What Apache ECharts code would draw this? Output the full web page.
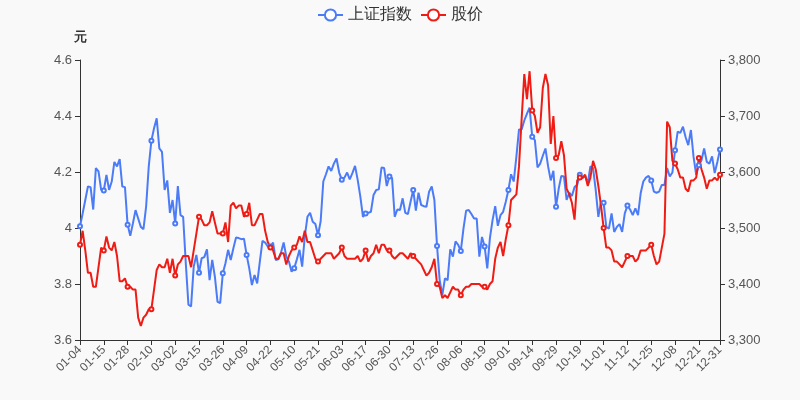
<!DOCTYPE html>
<html>
<head>
<meta charset="utf-8">
<script src="https://cdn.jsdelivr.net/npm/echarts@6/dist/echarts.min.js"></script>
<style>
  html, body { margin: 0; padding: 0; background: #f9f9f9; }
  #chart { width: 800px; height: 400px; }
</style>
</head>
<body>
<div id="chart"></div>
<script>
// 2021 沪市交易日（工作日去掉节假日）
var year = 2021;
var holidays = ['01-01', '02-11', '02-12', '02-15', '02-16', '02-17', '04-05',
    '05-03', '05-04', '05-05', '06-14', '09-20', '09-21',
    '10-01', '10-04', '10-05', '10-06', '10-07'];

function pad(n) { return n < 10 ? '0' + n : '' + n; }
var dates = [];
for (var d = new Date(year, 0, 1); d.getFullYear() === year; d.setDate(d.getDate() + 1)) {
    var wd = d.getDay();
    var key = pad(d.getMonth() + 1) + '-' + pad(d.getDate());
    if (wd !== 0 && wd !== 6 && holidays.indexOf(key) < 0) dates.push(key);
}

// 上证指数
var shIndex = [
    3503, 3526, 3550, 3574, 3573, 3533, 3607, 3601, 3568, 3567,
    3595, 3568, 3583, 3618, 3610, 3623, 3574, 3573, 3506, 3486,
    3508, 3532, 3517, 3502, 3498, 3538, 3610, 3656, 3678, 3696,
    3642, 3636, 3568, 3585, 3527, 3550, 3508, 3575, 3523, 3520,
    3437, 3363, 3360, 3431, 3452, 3420, 3446, 3448, 3462, 3407,
    3443, 3413, 3368, 3366, 3419, 3437, 3461, 3443, 3464, 3483,
    3482, 3480, 3481, 3452, 3428, 3398, 3416, 3401, 3440, 3477,
    3474, 3467, 3467, 3474, 3443, 3444, 3456, 3474, 3449, 3440,
    3422, 3428, 3444, 3461, 3431, 3485, 3520, 3527, 3511, 3507,
    3487, 3512, 3583, 3596, 3610, 3602, 3615, 3624, 3599, 3586,
    3590, 3599, 3587, 3598, 3611, 3586, 3556, 3520, 3526, 3527,
    3529, 3559, 3568, 3569, 3608, 3607, 3575, 3592, 3589, 3520,
    3533, 3532, 3553, 3527, 3525, 3547, 3568, 3531, 3563, 3541,
    3539, 3538, 3565, 3574, 3550, 3468, 3407, 3380, 3410, 3407,
    3462, 3449, 3476, 3470, 3459, 3499, 3531, 3532, 3525, 3517,
    3517, 3449, 3484, 3467, 3428, 3482, 3514, 3539, 3504, 3523,
    3529, 3547, 3568, 3596, 3583, 3627, 3676, 3676, 3692, 3704,
    3715, 3663, 3657, 3608, 3615, 3629, 3642, 3610, 3585, 3602,
    3538, 3570, 3593, 3592, 3550, 3563, 3557, 3573, 3577, 3595,
    3589, 3593, 3580, 3610, 3607, 3568, 3520, 3547, 3545, 3502,
    3499, 3526, 3493, 3502, 3507, 3493, 3526, 3540, 3533, 3523,
    3535, 3523, 3562, 3583, 3590, 3593, 3585, 3565, 3563, 3565,
    3577, 3577, 3607, 3592, 3599, 3639, 3672, 3670, 3681, 3662,
    3648, 3675, 3627, 3595, 3612, 3621, 3642, 3618, 3615, 3628,
    3598, 3618, 3640
];

// 股价（元）
var price = [
    3.94, 3.99, 3.92, 3.84, 3.84, 3.79, 3.79, 3.86, 3.93, 3.92,
    3.97, 3.93, 3.92, 3.95, 3.90, 3.81, 3.81, 3.82, 3.79, 3.79,
    3.78, 3.78, 3.68, 3.65, 3.68, 3.69, 3.71, 3.71, 3.78, 3.85,
    3.87, 3.86, 3.86, 3.89, 3.84, 3.89, 3.83, 3.87, 3.88, 3.90,
    3.90, 3.90, 3.86, 3.92, 3.98, 4.04, 4.03, 4.01, 4.01, 4.02,
    4.06, 4.02, 3.98, 3.98, 3.98, 4.02, 3.95, 4.08, 4.09, 4.07,
    4.08, 4.08, 4.04, 4.05, 4.09, 4.01, 4.01, 4.03, 4.05, 4.05,
    3.99, 3.95, 3.93, 3.92, 3.89, 3.89, 3.91, 3.91, 3.87, 3.90,
    3.92, 3.93, 3.94, 3.97, 3.95, 3.99, 3.95, 3.95, 3.92, 3.89,
    3.88, 3.89, 3.90, 3.91, 3.91, 3.91, 3.89, 3.90, 3.91, 3.93,
    3.90, 3.89, 3.89, 3.89, 3.89, 3.90, 3.88, 3.89, 3.92, 3.88,
    3.90, 3.91, 3.94, 3.91, 3.94, 3.94, 3.92, 3.92, 3.90, 3.89,
    3.90, 3.91, 3.91, 3.90, 3.89, 3.91, 3.90, 3.89, 3.88, 3.87,
    3.85, 3.83, 3.84, 3.86, 3.89, 3.80, 3.79, 3.75, 3.76, 3.75,
    3.77, 3.79, 3.78, 3.78, 3.76, 3.78, 3.79, 3.79, 3.80, 3.80,
    3.80, 3.80, 3.79, 3.79, 3.78, 3.80, 3.81, 3.89, 3.93, 3.95,
    3.90, 3.96, 4.01, 4.10, 4.11, 4.12, 4.22, 4.39, 4.55, 4.46,
    4.56, 4.42, 4.40, 4.34, 4.36, 4.50, 4.55, 4.51, 4.30, 4.40,
    4.25, 4.26, 4.31, 4.26, 4.14, 4.12, 4.09, 4.03, 4.17, 4.18,
    4.18, 4.19, 4.15, 4.18, 4.24, 4.21, 4.15, 4.08, 4.00, 3.93,
    3.93, 3.92, 3.88, 3.88, 3.87, 3.86, 3.88, 3.90, 3.90, 3.90,
    3.88, 3.89, 3.92, 3.92, 3.92, 3.93, 3.94, 3.90, 3.87, 3.88,
    3.93, 3.98, 4.38, 4.36, 4.24, 4.23, 4.21, 4.18, 4.18, 4.14,
    4.13, 4.17, 4.17, 4.18, 4.25, 4.21, 4.18, 4.14, 4.17, 4.17,
    4.18, 4.17, 4.19
];

var chart = echarts.init(document.getElementById('chart'));

function showLabel(i) {
    return i % 9 === 0 || i === dates.length - 1;
}

option = {
    backgroundColor: '#f9f9f9',
    color: ['#4b7bf6', '#ee1c15'],
    legend: {
        top: 2,
        itemWidth: 25,
        itemHeight: 14,
        textStyle: { fontSize: 16, color: '#333' },
        data: ['上证指数', '股价']
    },
    grid: { left: 80, right: 80, top: 60, bottom: 60 },
    xAxis: {
        type: 'category',
        boundaryGap: false,
        data: dates,
        axisLine: { lineStyle: { color: '#333' } },
        axisTick: { interval: showLabel, lineStyle: { color: '#333' } },
        axisLabel: { interval: showLabel, rotate: 45, color: '#555', fontSize: 12 }
    },
    yAxis: [
        {
            type: 'value',
            name: '元',
            nameGap: 16,
            nameTextStyle: { fontWeight: 'bold', fontSize: 13, color: '#333' },
            min: 3.6,
            max: 4.6,
            interval: 0.2,
            axisLine: { show: true, lineStyle: { color: '#333' } },
            axisTick: { show: true },
            axisLabel: { color: '#555', fontSize: 13 },
            splitLine: { show: false }
        },
        {
            type: 'value',
            min: 3300,
            max: 3800,
            interval: 100,
            axisLine: { show: true, lineStyle: { color: '#333' } },
            axisTick: { show: true },
            axisLabel: { color: '#555', fontSize: 13 },
            splitLine: { show: false }
        }
    ],
    series: [
        {
            name: '上证指数',
            type: 'line',
            yAxisIndex: 1,
            data: shIndex,
            symbol: 'emptyCircle',
            symbolSize: 4,
            itemStyle: { borderWidth: 1 },
            lineStyle: { width: 2 }
        },
        {
            name: '股价',
            type: 'line',
            yAxisIndex: 0,
            data: price,
            symbol: 'emptyCircle',
            symbolSize: 4,
            itemStyle: { borderWidth: 1 },
            lineStyle: { width: 2 }
        }
    ]
};

chart.setOption(option);
</script>
</body>
</html>
